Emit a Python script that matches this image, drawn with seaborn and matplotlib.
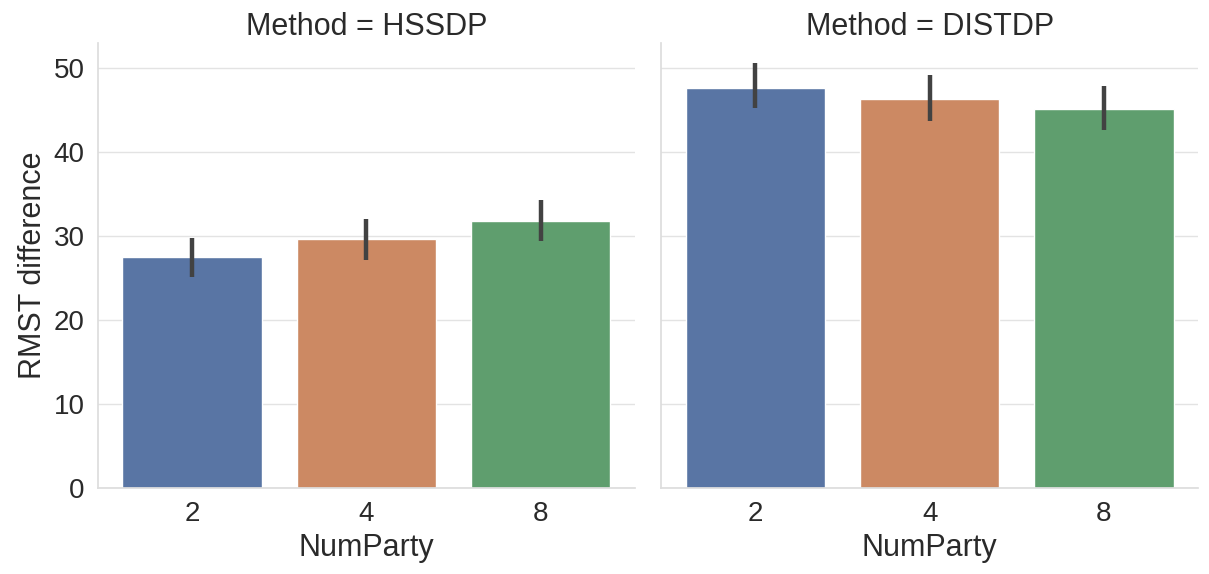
import pandas as pd
import matplotlib.pyplot as plt
import seaborn as sns

# Werte
methods = ["HSSDP", "DISTDP"]
num_party = ["2", "4", "8"]
rmst_hssdp = [27.5, 29.6, 31.8]
rmst_distdp = [47.6, 46.3, 45.1]
ci_low_hssdp = [25.1, 27.1, 29.4]
ci_high_hssdp = [29.8, 32.0, 34.3]
ci_low_distdp = [45.3, 43.7, 42.6]
ci_high_distdp = [50.6, 49.2, 47.9]

means = {"HSSDP": rmst_hssdp, "DISTDP": rmst_distdp}
ci_low = {"HSSDP": ci_low_hssdp, "DISTDP": ci_low_distdp}
ci_high = {"HSSDP": ci_high_hssdp, "DISTDP": ci_high_distdp}

rows = []
for m in methods:
    for n, v in zip(num_party, means[m]):
        rows.append({"Method": m, "NumParty": n, "RMST difference": v})
df = pd.DataFrame(rows)

sns.set_theme(style="whitegrid")
plt.rcParams["font.family"] = ["Liberation Sans", "DejaVu Sans"]
plt.rcParams["axes.edgecolor"] = "#dddddd"
plt.rcParams["grid.color"] = "#e3e3e3"

g = sns.catplot(data=df, x="NumParty", y="RMST difference", col="Method",
                kind="bar", hue="NumParty", palette="deep", legend=False,
                errorbar=None, order=num_party, col_order=methods,
                height=5.74, aspect=12.09 / 2 / 5.74)

for ax, m in zip(g.axes.flat, methods):
    bars = sorted(ax.patches, key=lambda p: p.get_x())
    for i, p in enumerate(bars):
        xc = p.get_x() + p.get_width() / 2
        ax.vlines(xc, ci_low[m][i], ci_high[m][i], color=".26", lw=3.2, zorder=3)
    ax.set_ylim(0, 53)
    ax.set_yticks([0, 10, 20, 30, 40, 50])
    ax.tick_params(labelsize=20, colors="#2a2a2a")
    ax.set_title(f"Method = {m}", fontsize=22, color="#2a2a2a")
    ax.set_xlabel("NumParty", fontsize=22, color="#2a2a2a")

g.axes.flat[0].set_ylabel("RMST difference", fontsize=22, color="#2a2a2a")

g.figure.set_size_inches(12.09, 5.74)
g.figure.subplots_adjust(left=98 / 1209, right=1198 / 1209, bottom=1 - 488 / 574,
                         top=1 - 43 / 574, wspace=0.05)
g.figure.savefig("out.png", dpi=100)
